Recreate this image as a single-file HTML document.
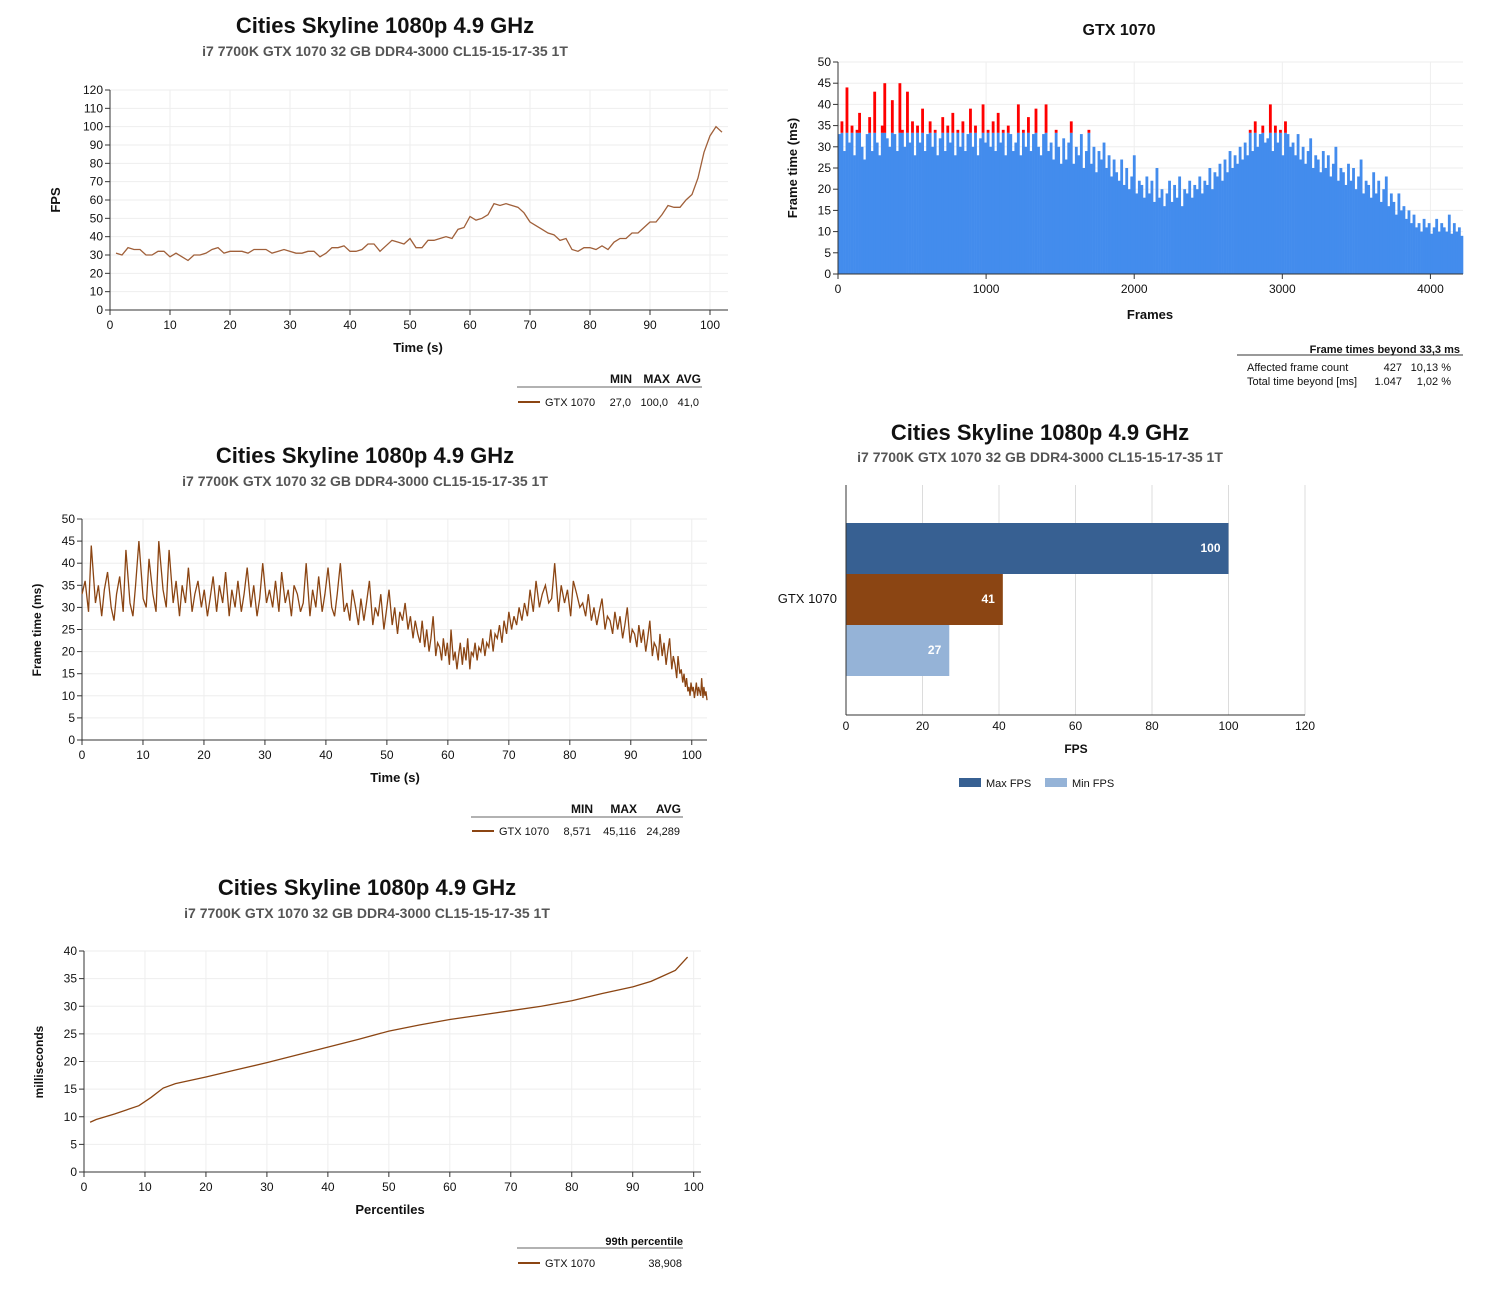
<!DOCTYPE html>
<html><head><meta charset="utf-8"><style>
body{margin:0;background:#fff;width:1485px;height:1290px;overflow:hidden;font-family:"Liberation Sans",sans-serif}
svg text{font-family:"Liberation Sans",sans-serif}
</style></head><body>
<svg id="s" width="1485" height="1290" xmlns="http://www.w3.org/2000/svg"></svg>
<script>
const fpsValues=[31,30,34,33,33,30,30,32,32,29,31,29,27,30,30,31,33,34,31,32,32,32,31,33,33,33,31,32,33,32,31,31,32,32,29,31,34,34,35,32,32,33,36,36,32,35,38,37,36,39,34,34,38,38,39,40,39,44,45,51,49,50,52,58,57,58,57,56,53,48,46,44,42,41,38,39,33,32,34,34,33,35,33,37,39,39,42,42,45,48,48,52,57,56,56,60,63,72,86,95,100,97];
const frameTimes=[33,36,29,44,31,35,28,34,38,30,27,33,37,29,43,31,28,35,45,32,30,41,33,29,45,34,30,43,31,36,28,35,31,39,29,33,36,30,34,28,32,37,29,35,31,38,28,34,30,36,29,33,39,30,35,28,32,40,31,34,30,36,29,38,31,34,28,35,33,29,31,40,28,34,30,37,29,33,39,30,28,33,40,29,31,27,34,30,26,32,27,31,36,26,30,28,33,25,29,34,26,30,24,29,27,31,25,28,23,27,24,22,27,21,25,20,23,28,19,22,21,18,23,19,22,17,25,18,20,16,19,22,17,21,18,23,16,20,19,22,18,21,20,23,19,22,21,25,20,24,23,26,22,27,24,29,25,28,26,30,27,31,28,34,29,36,30,33,35,31,32,40,29,35,31,34,28,36,33,30,31,28,33,27,30,26,29,32,25,28,27,24,29,25,28,23,26,30,22,25,24,21,26,22,25,20,23,27,19,22,21,18,24,19,22,17,20,23,16,19,17,14,19,15,16,13,15,12,14,11,12,10,13,11,12,9.5,11,13,10,12,11,10,14,9.5,12,10,11,9];
const totalFrames=4220;
const totalSeconds=102.5;
const pctX=[1,2,5,9,11,13,15,20,25,30,35,40,45,50,55,60,65,70,75,80,85,90,93,95,97,99];
const pctY=[9,9.5,10.5,12,13.5,15.2,16,17.2,18.5,19.8,21.2,22.6,24,25.5,26.6,27.6,28.4,29.2,30,31,32.3,33.5,34.5,35.5,36.5,38.9];
const barCats=['Max FPS','Avg FPS','Min FPS'];
const barVals=[100,41,27];

const S=document.getElementById('s');const NS='http://www.w3.org/2000/svg';
function el(t,a,p){const e=document.createElementNS(NS,t);for(const k in a)e.setAttribute(k,a[k]);(p||S).appendChild(e);return e}
function tx(x,y,s,o){o=o||{};const e=el('text',{x:x,y:y,'font-size':o.fs||12,'font-weight':o.fw||'normal',fill:o.c||'#111','text-anchor':o.a||'start'});if(o.r)e.setAttribute('transform','rotate(-90 '+x+' '+y+')');e.textContent=s;return e}
function axes(g,x0,x1,y0,y1,xmin,xmax,ymin,ymax,xt,yt,gridC){
 const sx=v=>x0+(v-xmin)/(xmax-xmin)*(x1-x0), sy=v=>y0-(v-ymin)/(ymax-ymin)*(y0-y1);
 yt.forEach(v=>{const l=el('line',{x1:x0,x2:x1,y1:sy(v),y2:sy(v),stroke:gridC,'stroke-width':1},g);
  el('line',{x1:x0-5,x2:x0,y1:sy(v),y2:sy(v),stroke:'#333'},g);tx(x0-7,sy(v)+4,String(v),{a:'end',n:'y-tick-label'})});
 xt.forEach(v=>{const l=el('line',{x1:sx(v),x2:sx(v),y1:y1,y2:y0,stroke:gridC},g);
  el('line',{x1:sx(v),x2:sx(v),y1:y0,y2:y0+5,stroke:'#333'},g);tx(sx(v),y0+19,String(v),{a:'middle',n:'x-tick-label'})});
 return {sx,sy};
}
function axisLines(g,x0,x1,y0,y1){el('line',{x1:x0,x2:x0,y1:y1,y2:y0,stroke:'#333'},g);el('line',{x1:x0,x2:x1,y1:y0,y2:y0,stroke:'#333'},g)}
function grp(n){const g=el('g',{});return g}
const T='Cities Skyline 1080p 4.9 GHz', ST='i7 7700K GTX 1070 32 GB DDR4-3000 CL15-15-17-35 1T';

// Chart 1 FPS
{const g=grp('fps-chart');
 tx(385,33,T,{fs:22,fw:'bold',a:'middle',n:'chart-title'});tx(385,56,ST,{fs:14,fw:'bold',a:'middle',c:'#555',n:'chart-subtitle'});
 const yt=[];for(let v=0;v<=120;v+=10)yt.push(v);
 const {sx,sy}=axes(g,110,728,310,90,0,103,0,120,[0,10,20,30,40,50,60,70,80,90,100],yt,'#eeeeee');
 axisLines(g,110,728,310,90);
 const p=el('polyline',{points:fpsValues.map((v,i)=>sx(i+1)+','+sy(v)).join(' '),fill:'none',stroke:'#a0603a','stroke-width':1.3},g);
 
 tx(60,200,'FPS',{fs:13,fw:'bold',a:'middle',r:1,n:'y-axis-title'});tx(418,352,'Time (s)',{fs:13,fw:'bold',a:'middle',n:'x-axis-title'});
 el('line',{x1:517,x2:702,y1:387,y2:387,stroke:'#666'},g);
 tx(632,383,'MIN',{fw:'bold',a:'end'});tx(670,383,'MAX',{fw:'bold',a:'end'});tx(701,383,'AVG',{fw:'bold',a:'end'});
 el('line',{x1:518,x2:540,y1:402,y2:402,stroke:'#8b4513','stroke-width':2},g);
 tx(545,406,'GTX 1070',{fs:11});tx(631,406,'27,0',{fs:11,a:'end'});tx(668,406,'100,0',{fs:11,a:'end'});tx(699,406,'41,0',{fs:11,a:'end'});
}
// Chart 2 histogram
{const g=grp('frametime-histogram');
 tx(1119,35,'GTX 1070',{fs:16,fw:'bold',a:'middle',n:'chart-title'});
 const yt=[0,5,10,15,20,25,30,35,40,45,50];
 const {sx,sy}=axes(g,838,1463,274,62,0,totalFrames,0,50,[0,1000,2000,3000,4000],yt,'#eeeeee');
 const step=totalFrames/frameTimes.length;
 frameTimes.forEach((v,i)=>{const x=sx(i*step),w=sx((i+1)*step)-x+0.3;const lim=Math.min(v,33.3);
  const b=el('rect',{x:x,y:sy(lim),width:w,height:sy(0)-sy(lim),fill:'#438ced'},g);
  if(v>33.3){const r=el('rect',{x:x,y:sy(v),width:w,height:sy(33.3)-sy(v),fill:'#ff0000'},g);}});
 axisLines(g,838,1463,274,62);
 tx(797,168,'Frame time (ms)',{fs:13,fw:'bold',a:'middle',r:1,n:'y-axis-title'});tx(1150,319,'Frames',{fs:13,fw:'bold',a:'middle',n:'x-axis-title'});
 tx(1460,353,'Frame times beyond 33,3 ms',{fs:11,fw:'bold',a:'end',n:'table-title'});
 el('line',{x1:1237,x2:1463,y1:355,y2:355,stroke:'#333'},g);
 tx(1247,371,'Affected frame count',{fs:11});tx(1402,371,'427',{fs:11,a:'end'});tx(1451,371,'10,13 %',{fs:11,a:'end'});
 tx(1247,385,'Total time beyond [ms]',{fs:11});tx(1402,385,'1.047',{fs:11,a:'end'});tx(1451,385,'1,02 %',{fs:11,a:'end'});
}
// Chart 3 frame time over time
{const g=grp('frametime-line-chart');
 tx(365,463,T,{fs:22,fw:'bold',a:'middle',n:'chart-title'});tx(365,486,ST,{fs:14,fw:'bold',a:'middle',c:'#555',n:'chart-subtitle'});
 const {sx,sy}=axes(g,82,707,740,519,0,102.5,0,50,[0,10,20,30,40,50,60,70,80,90,100],[0,5,10,15,20,25,30,35,40,45,50],'#eeeeee');
 axisLines(g,82,707,740,519);
 const sum=frameTimes.reduce((a,b)=>a+b,0)-frameTimes[frameTimes.length-1];
 let t=0;const pts=[];
 frameTimes.forEach(v=>{pts.push(sx(t/sum*totalSeconds)+','+sy(v));t+=v;});
 const p=el('polyline',{points:pts.join(' '),fill:'none',stroke:'#8b4513','stroke-width':1.3},g);
 
 tx(41,630,'Frame time (ms)',{fs:12,fw:'bold',a:'middle',r:1,n:'y-axis-title'});tx(395,782,'Time (s)',{fs:13,fw:'bold',a:'middle',n:'x-axis-title'});
 el('line',{x1:471,x2:683,y1:817,y2:817,stroke:'#666'},g);
 tx(593,813,'MIN',{fw:'bold',a:'end'});tx(637,813,'MAX',{fw:'bold',a:'end'});tx(681,813,'AVG',{fw:'bold',a:'end'});
 el('line',{x1:472,x2:494,y1:831,y2:831,stroke:'#8b4513','stroke-width':2},g);
 tx(499,835,'GTX 1070',{fs:11});tx(591,835,'8,571',{fs:11,a:'end'});tx(636,835,'45,116',{fs:11,a:'end'});tx(680,835,'24,289',{fs:11,a:'end'});
}
// Chart 4 bars
{const g=grp('fps-bar-chart');
 tx(1040,440,T,{fs:22,fw:'bold',a:'middle',n:'chart-title'});tx(1040,462,ST,{fs:14,fw:'bold',a:'middle',c:'#555',n:'chart-subtitle'});
 const x0=846,x1=1305,y0=715,y1=485,sx=v=>x0+v/120*(x1-x0);
 [0,20,40,60,80,100,120].forEach(v=>{el('line',{x1:sx(v),x2:sx(v),y1:y1,y2:y0,stroke:'#dcdcdc'},g);tx(sx(v),y0+15,String(v),{a:'middle',n:'x-tick-label'})});
 const cols=['#376092','#8b4513','#95b3d7'];
 barVals.forEach((v,i)=>{const y=523+i*51;const r=el('rect',{x:x0,y:y,width:sx(v)-x0,height:51,fill:cols[i]},g);
  tx(sx(v)-8,y+29,String(v),{fs:12,fw:'bold',a:'end',c:'#fff',n:'bar-value'})});
 axisLines(g,x0,x1,y0,y1);
 tx(837,603,'GTX 1070',{fs:13,a:'end',n:'category-label'});tx(1076,753,'FPS',{fs:12,fw:'bold',a:'middle',n:'x-axis-title'});
 el('rect',{x:959,y:778,width:22,height:9,fill:'#376092'},g);tx(986,787,'Max FPS',{fs:11,n:'legend-entry'});
 el('rect',{x:1045,y:778,width:22,height:9,fill:'#95b3d7'},g);tx(1072,787,'Min FPS',{fs:11,n:'legend-entry'});
}
// Chart 5 percentiles
{const g=grp('percentile-chart');
 tx(367,895,T,{fs:22,fw:'bold',a:'middle',n:'chart-title'});tx(367,918,ST,{fs:14,fw:'bold',a:'middle',c:'#555',n:'chart-subtitle'});
 const {sx,sy}=axes(g,84,701,1172,951,0,101.2,0,40,[0,10,20,30,40,50,60,70,80,90,100],[0,5,10,15,20,25,30,35,40],'#eeeeee');
 axisLines(g,84,701,1172,951);
 const p=el('polyline',{points:pctX.map((v,i)=>sx(v)+','+sy(pctY[i])).join(' '),fill:'none',stroke:'#8b4513','stroke-width':1.3},g);
 
 tx(43,1062,'milliseconds',{fs:12,fw:'bold',a:'middle',r:1,n:'y-axis-title'});tx(390,1214,'Percentiles',{fs:13,fw:'bold',a:'middle',n:'x-axis-title'});
 tx(683,1245,'99th percentile',{fs:11,fw:'bold',a:'end'});el('line',{x1:517,x2:683,y1:1248,y2:1248,stroke:'#666'},g);
 el('line',{x1:518,x2:540,y1:1263,y2:1263,stroke:'#8b4513','stroke-width':2},g);
 tx(545,1267,'GTX 1070',{fs:11});tx(682,1267,'38,908',{fs:11,a:'end'});
}
</script>
</body></html>
